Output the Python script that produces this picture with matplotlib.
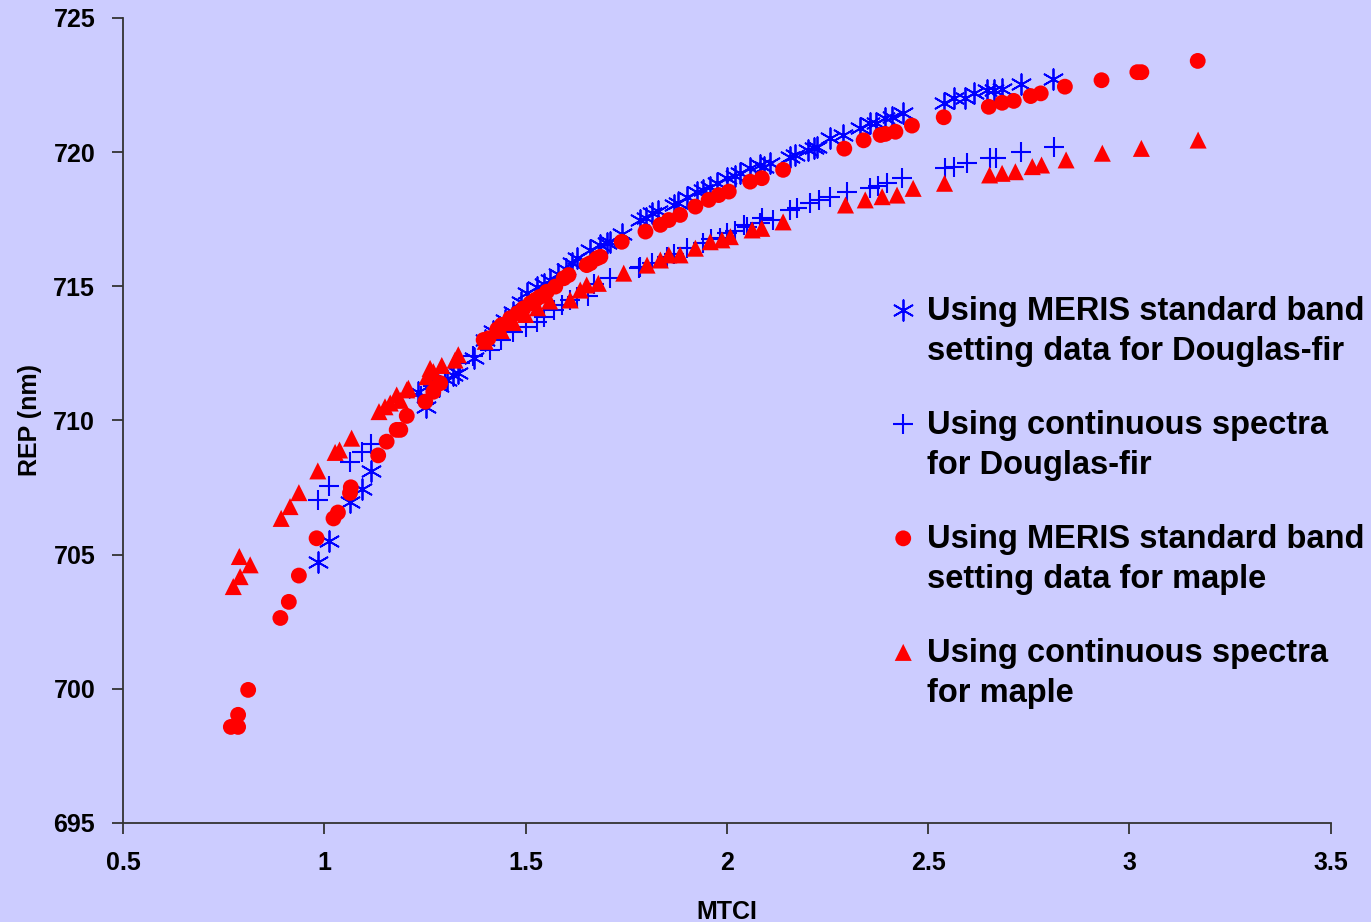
import numpy as np
import matplotlib
matplotlib.use("Agg")
import matplotlib.pyplot as plt
from matplotlib.ticker import FuncFormatter

# MTCI / REP values
df_meris_x = [0.984, 1.013, 1.064, 1.095, 1.116, 1.234, 1.252, 1.285, 1.305, 1.321, 1.333, 1.371,
              1.40, 1.42, 1.45, 1.47, 1.49, 1.503, 1.528, 1.545, 1.561, 1.58, 1.60, 1.615, 1.628,
              1.661, 1.686, 1.702, 1.710, 1.74, 1.785, 1.80, 1.814, 1.83, 1.868, 1.88, 1.901,
              1.926, 1.94, 1.959, 1.975, 2.0, 2.02, 2.034, 2.058, 2.083, 2.092, 2.108, 2.158,
              2.17, 2.203, 2.216, 2.225, 2.257, 2.290, 2.332, 2.357, 2.37, 2.394, 2.411, 2.439,
              2.539, 2.564, 2.593, 2.614, 2.647, 2.663, 2.684, 2.73, 2.811]
df_meris_y = [704.72, 705.51, 706.97, 707.44, 708.12, 711.07, 710.51, 711.29, 711.51, 711.70, 711.76, 712.32,
              713.0, 713.35, 713.75, 714.05, 714.4, 714.74, 714.99, 715.1, 715.24, 715.45, 715.65, 715.86, 716.04,
              716.35, 716.54, 716.6, 716.66, 716.95, 717.47, 717.55, 717.72, 717.8, 718.03, 718.1, 718.34,
              718.53, 718.6, 718.71, 718.85, 719.03, 719.1, 719.21, 719.40, 719.52, 719.46, 719.58, 719.83,
              719.9, 720.08, 720.14, 720.2, 720.52, 720.64, 720.89, 721.08, 721.1, 721.26, 721.32, 721.45,
              721.82, 722.01, 722.01, 722.19, 722.32, 722.32, 722.34, 722.55, 722.72]

df_cont_x = [0.984, 1.013, 1.064, 1.093, 1.116, 1.24, 1.27, 1.30, 1.338, 1.37, 1.412, 1.44, 1.47,
             1.50, 1.528, 1.545, 1.570, 1.59, 1.611, 1.628, 1.655, 1.67, 1.710, 1.781, 1.785, 1.814,
             1.851, 1.87, 1.901, 1.942, 1.96, 1.984, 2.0, 2.02, 2.042, 2.050, 2.083, 2.087, 2.116,
             2.158, 2.175, 2.208, 2.23, 2.257, 2.299, 2.357, 2.375, 2.398, 2.436, 2.543, 2.564,
             2.597, 2.655, 2.668, 2.730, 2.812]
df_cont_y = [707.04, 707.56, 708.47, 708.81, 709.11, 710.9, 711.3, 711.6, 712.13, 712.4, 712.63, 713.0, 713.3,
             713.5, 713.68, 713.87, 714.12, 714.3, 714.49, 714.6, 714.65, 715.1, 715.30, 715.67, 715.73, 715.86,
             716.10, 716.2, 716.42, 716.60, 716.75, 716.79, 717.0, 717.05, 717.30, 717.22, 717.35, 717.54, 717.47,
             717.84, 717.9, 718.09, 718.2, 718.34, 718.53, 718.65, 718.75, 718.84, 719.03, 719.40, 719.46,
             719.58, 719.77, 719.77, 720.02, 720.20]

mp_meris_x = [0.768, 0.786, 0.786, 0.811, 0.891, 0.912, 0.937, 0.981, 1.023, 1.034, 1.066, 1.064,
              1.134, 1.155, 1.180, 1.189, 1.205, 1.251, 1.271, 1.288, 1.396, 1.408, 1.43, 1.441,
              1.462, 1.48, 1.495, 1.512, 1.525, 1.536, 1.553, 1.574, 1.595, 1.607, 1.652, 1.661,
              1.677, 1.686, 1.739, 1.798, 1.835, 1.856, 1.884, 1.922, 1.955, 1.980, 2.005, 2.058,
              2.087, 2.140, 2.292, 2.340, 2.382, 2.394, 2.419, 2.460, 2.539, 2.651, 2.684, 2.713,
              2.755, 2.780, 2.840, 2.931, 3.020, 3.030, 3.170]
mp_meris_y = [698.58, 698.58, 699.03, 699.96, 702.64, 703.24, 704.22, 705.61, 706.35, 706.57, 707.51, 707.3,
              708.70, 709.21, 709.65, 709.65, 710.17, 710.70, 711.07, 711.39, 713.0, 713.06, 713.4, 713.56,
              713.81, 714.0, 714.18, 714.37, 714.5, 714.61, 714.80, 714.99, 715.30, 715.42, 715.79, 715.86,
              716.04, 716.10, 716.66, 717.04, 717.29, 717.47, 717.66, 717.97, 718.22, 718.40, 718.53, 718.90,
              719.03, 719.34, 720.13, 720.44, 720.64, 720.68, 720.76, 720.99, 721.30, 721.69, 721.84, 721.91,
              722.09, 722.19, 722.44, 722.68, 722.98, 722.98, 723.40]

mp_cont_x = [0.774, 0.791, 0.816, 0.789, 0.893, 0.915, 0.937, 0.984, 1.027, 1.038, 1.068, 1.136,
             1.151, 1.164, 1.180, 1.189, 1.205, 1.209, 1.255, 1.263, 1.271, 1.292, 1.325, 1.333,
             1.40, 1.44, 1.47, 1.50, 1.53, 1.56, 1.611, 1.636, 1.652, 1.681, 1.744, 1.802, 1.835,
             1.856, 1.884, 1.922, 1.959, 1.988, 2.009, 2.063, 2.087, 2.140, 2.295, 2.344, 2.386,
             2.423, 2.463, 2.541, 2.653, 2.684, 2.717, 2.759, 2.782, 2.843, 2.933, 3.030, 3.171]
mp_cont_y = [703.81, 704.18, 704.62, 704.93, 706.35, 706.79, 707.31, 708.12, 708.81, 708.90, 709.34, 710.33,
             710.51, 710.65, 710.95, 710.75, 711.14, 711.20, 711.63, 711.94, 711.82, 712.05, 712.25, 712.45,
             712.95, 713.35, 713.65, 713.95, 714.2, 714.45, 714.49, 714.86, 715.05, 715.11, 715.49, 715.79, 715.98,
             716.17, 716.17, 716.42, 716.66, 716.73, 716.85, 717.10, 717.16, 717.40, 718.03, 718.22, 718.34,
             718.40, 718.65, 718.84, 719.15, 719.21, 719.27, 719.46, 719.52, 719.71, 719.96, 720.14, 720.45]

labels = ["Using MERIS standard band\nsetting data for Douglas-fir",
          "Using continuous spectra\nfor Douglas-fir",
          "Using MERIS standard band\nsetting data for maple",
          "Using continuous spectra\nfor maple"]

plt.rcParams['font.family'] = ['Liberation Sans', 'DejaVu Sans']
plt.rcParams['font.weight'] = 'bold'

bg = '#CCCCFF'
fig = plt.figure(figsize=(13.71, 9.22), dpi=100, facecolor=bg)
ax = fig.add_axes([0.0897, 0.1074, 0.8808, 0.8731], facecolor=bg)

ax.scatter(df_meris_x, df_meris_y, marker=(6, 2, 0), s=220, color='#0000FF', linewidths=1.3, label=labels[0])
ax.scatter(df_cont_x, df_cont_y, marker='+', s=200, color='#0000FF', linewidths=1.5, label=labels[1])
ax.scatter(mp_meris_x, mp_meris_y, marker='o', s=130, color='#FF0000', edgecolors='none', label=labels[2])
ax.scatter(mp_cont_x, mp_cont_y, marker='^', s=150, color='#FF0000', edgecolors='none', label=labels[3])

ax.set_xlim(0.5, 3.5)
ax.set_ylim(695, 725)
ax.set_xticks(np.arange(0.5, 3.51, 0.5))
ax.set_yticks(np.arange(695, 725.1, 5))
ax.xaxis.set_major_formatter(FuncFormatter(lambda v, p: '{:g}'.format(v)))

for side in ['top', 'right']:
    ax.spines[side].set_visible(False)
for side in ['left', 'bottom']:
    ax.spines[side].set_color('#333333')
    ax.spines[side].set_linewidth(1.3)
ax.tick_params(direction='out', length=8, width=1.3, color='#333333', labelsize=18, pad=12)

ax.set_xlabel('MTCI', fontsize=18, fontweight='bold', labelpad=18)
ax.set_ylabel('REP (nm)', fontsize=18, fontweight='bold', labelpad=8)

leg = ax.legend(loc='upper left', bbox_to_anchor=(0.6475, 0.679), bbox_transform=fig.transFigure,
                frameon=False, fontsize=23.5, handlelength=0.95, handletextpad=0.25,
                labelspacing=1.33, borderpad=0, borderaxespad=0, scatterpoints=1)
for t in leg.get_texts():
    t.set_linespacing(1.36)
# put each marker next to the first line of its label
for col in leg._legend_handle_box.get_children():
    for hp in col.get_children():
        hp.align = 'top'

fig.savefig('out.png', dpi=100, facecolor=bg)
